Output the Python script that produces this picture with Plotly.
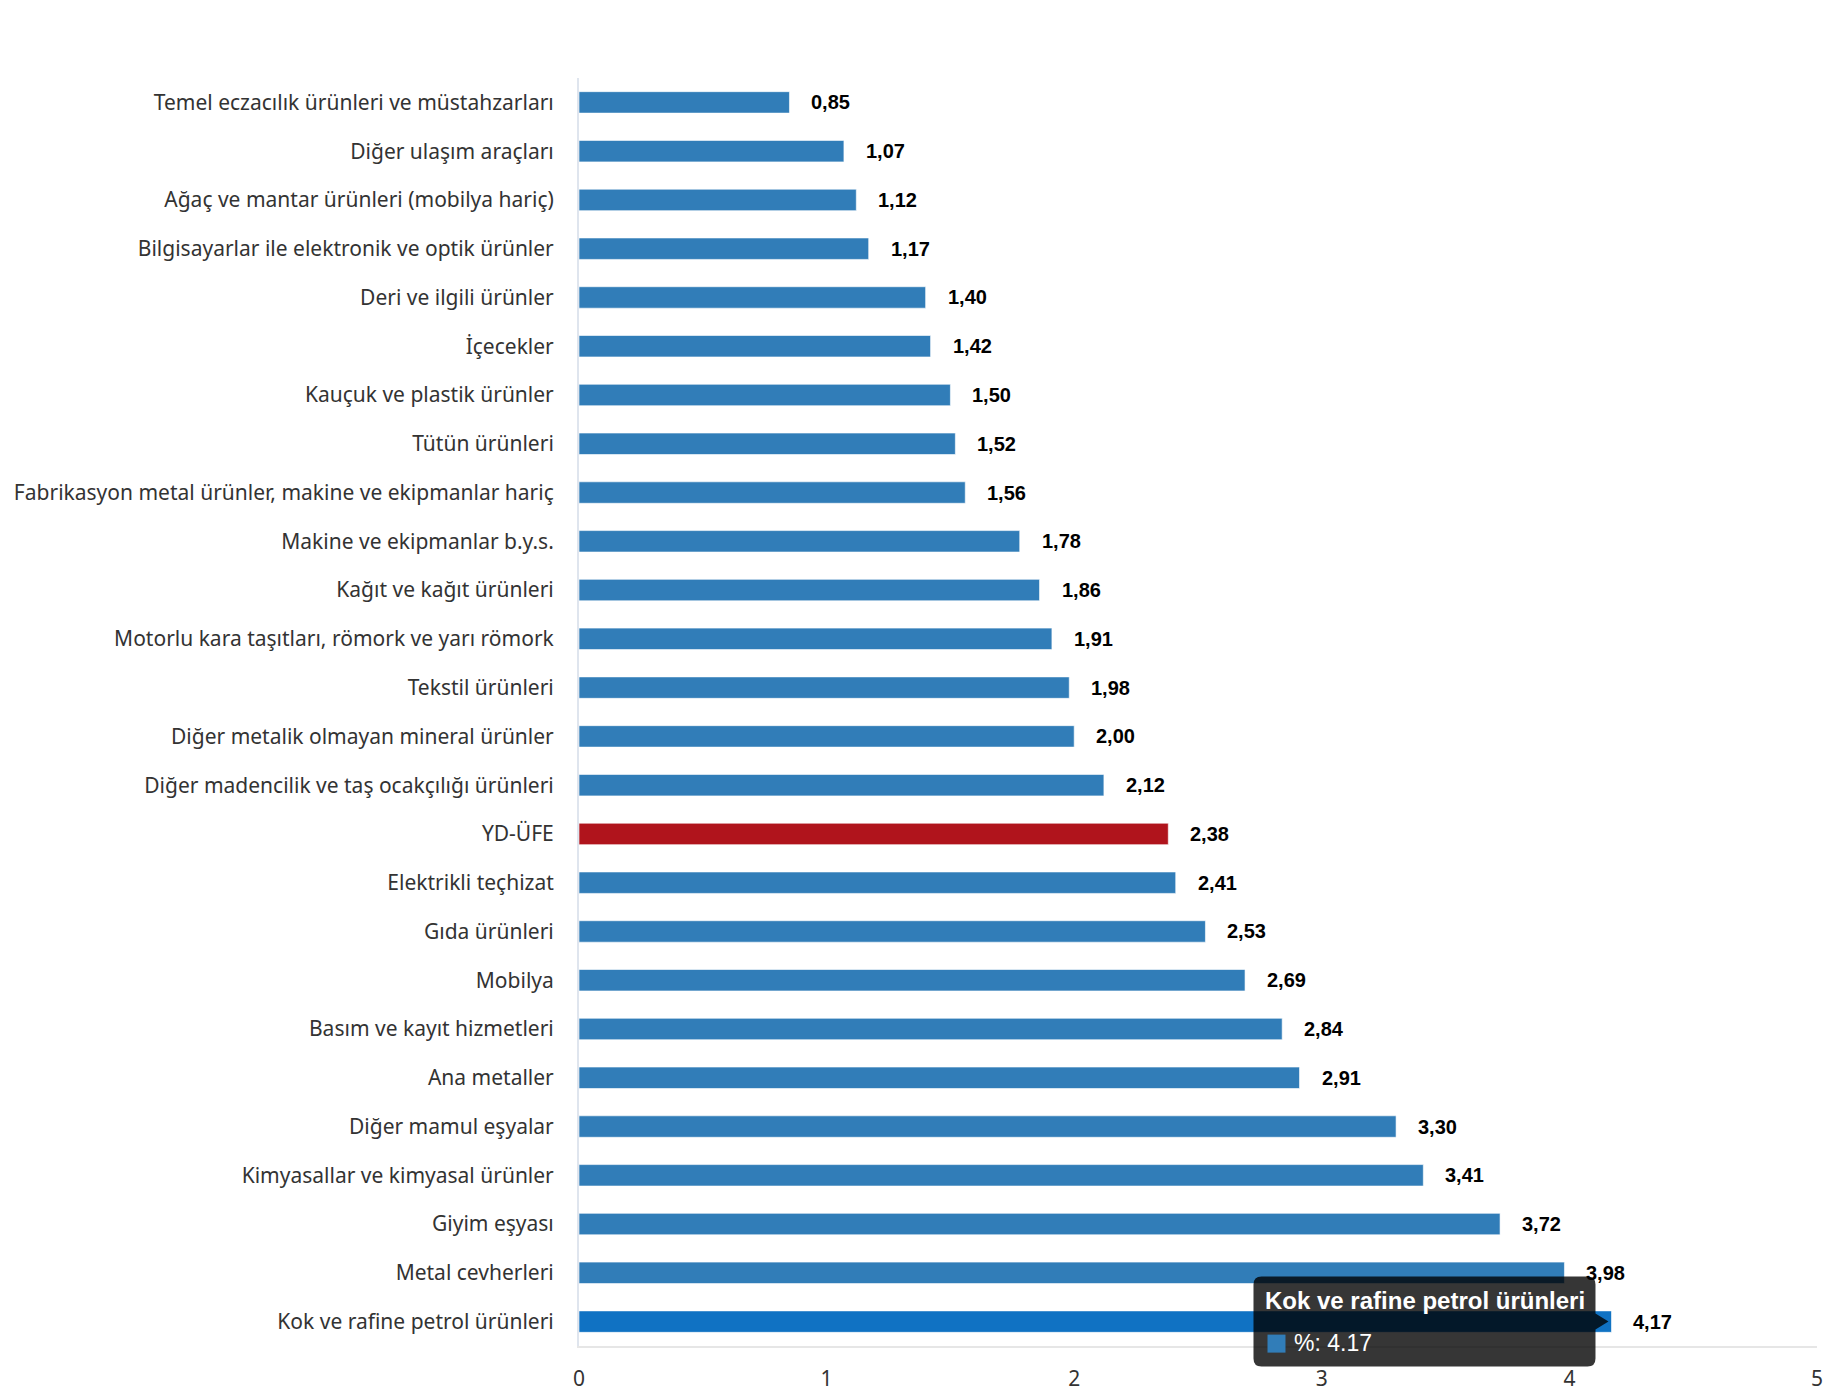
import plotly.graph_objects as go

categories = [
    "Temel eczacılık ürünleri ve müstahzarları",
    "Diğer ulaşım araçları",
    "Ağaç ve mantar ürünleri (mobilya hariç)",
    "Bilgisayarlar ile elektronik ve optik ürünler",
    "Deri ve ilgili ürünler",
    "İçecekler",
    "Kauçuk ve plastik ürünler",
    "Tütün ürünleri",
    "Fabrikasyon metal ürünler, makine ve ekipmanlar hariç",
    "Makine ve ekipmanlar b.y.s.",
    "Kağıt ve kağıt ürünleri",
    "Motorlu kara taşıtları, römork ve yarı römork",
    "Tekstil ürünleri",
    "Diğer metalik olmayan mineral ürünler",
    "Diğer madencilik ve taş ocakçılığı ürünleri",
    "YD-ÜFE",
    "Elektrikli teçhizat",
    "Gıda ürünleri",
    "Mobilya",
    "Basım ve kayıt hizmetleri",
    "Ana metaller",
    "Diğer mamul eşyalar",
    "Kimyasallar ve kimyasal ürünler",
    "Giyim eşyası",
    "Metal cevherleri",
    "Kok ve rafine petrol ürünleri",
]
values = [0.85, 1.07, 1.12, 1.17, 1.40, 1.42, 1.50, 1.52, 1.56, 1.78, 1.86, 1.91,
          1.98, 2.00, 2.12, 2.38, 2.41, 2.53, 2.69, 2.84, 2.91, 3.30, 3.41, 3.72,
          3.98, 4.17]
x_ticks = [0, 1, 2, 3, 4, 5]

highlight_category = "YD-ÜFE"
hover_category = "Kok ve rafine petrol ürünleri"
series_name = "%"

BLUE = "#317db8"
RED = "#b0141c"
HOVER_BLUE = "#1072c3"

x_range = [0, 5]
y_range = [len(categories) - 0.5, -0.5]

colors = []
for c in categories:
    if c == highlight_category:
        colors.append(RED)
    elif c == hover_category:
        colors.append(HOVER_BLUE)
    else:
        colors.append(BLUE)

fig = go.Figure()
fig.add_trace(go.Bar(
    x=values, y=categories, orientation="h",
    marker=dict(color=colors, line=dict(color="rgba(255,255,255,0.6)", width=1)),
    width=0.44, name=series_name, hoverinfo="skip",
))

annotations = []
for c, v in zip(categories, values):
    annotations.append(dict(
        x=v, y=c, xref="x", yref="y", text=f"<b>{v:.2f}</b>".replace(".", ","),
        showarrow=False, xanchor="left", yanchor="middle", xshift=20,
        font=dict(family="Liberation Sans, Arial", size=20, color="#000000"),
    ))

# tooltip overlay for hovered bar (paper-anchored so it is not clipped)
hi = categories.index(hover_category)
hv = values[hi]
ax_paper = (hv - x_range[0]) / (x_range[1] - x_range[0])
ay_paper = (y_range[0] - hi) / (y_range[0] - y_range[1])
shapes = [
    dict(
        type="path", xref="paper", yref="paper", xsizemode="pixel", ysizemode="pixel",
        xanchor=ax_paper, yanchor=ay_paper,
        path=("M -350,-45 L -24,-45 Q -16,-45 -16,-37 L -16,-8 L -3,0 L -16,8 "
              "L -16,37 Q -16,45 -24,45 L -350,45 Q -358,45 -358,37 L -358,-37 "
              "Q -358,-45 -350,-45 Z"),
        fillcolor="rgba(0,0,0,0.79)", line=dict(width=0), layer="above",
    ),
    dict(
        type="rect", xref="paper", yref="paper", xsizemode="pixel", ysizemode="pixel",
        xanchor=ax_paper, yanchor=ay_paper,
        x0=-344, x1=-326, y0=-31, y1=-13,
        fillcolor=BLUE, line=dict(width=0), layer="above",
    ),
]
annotations.append(dict(
    x=hv, y=hover_category, xref="x", yref="y",
    text=f"<b>{hover_category}</b>", showarrow=False,
    xanchor="left", yanchor="middle", xshift=-348, yshift=21,
    font=dict(family="Liberation Sans, Arial", size=24, color="#ffffff"),
))
annotations.append(dict(
    x=hv, y=hover_category, xref="x", yref="y",
    text=f"{series_name}: {hv:.2f}",
    showarrow=False,
    xanchor="left", yanchor="middle", xshift=-319, yshift=-21,
    font=dict(family="Liberation Sans, Arial", size=23, color="#ffffff"),
))

fig.update_layout(
    width=1830, height=1400,
    margin=dict(l=579, r=13, t=78, b=54),
    paper_bgcolor="#ffffff", plot_bgcolor="#ffffff",
    showlegend=False,
    annotations=annotations, shapes=shapes,
)
fig.update_yaxes(
    type="category", autorange=False, range=y_range,
    showline=True, linecolor="#dfe5ee", linewidth=2, showgrid=False,
    ticks="", ticklabelstandoff=19,
    tickfont=dict(family="Noto Sans", size=21, color="#333333"),
    automargin=False,
)
fig.update_xaxes(
    range=x_range, tickvals=x_ticks, ticktext=[str(t) for t in x_ticks],
    showline=True, linecolor="#e6e6e6", linewidth=2, showgrid=False,
    zeroline=False, ticks="", ticklabelstandoff=13,
    tickfont=dict(family="Noto Sans", size=21, color="#333333"),
    automargin=False,
)

fig.write_html("out.html", config={"displayModeBar": False},
               post_script="document.body.style.margin='0px';")
